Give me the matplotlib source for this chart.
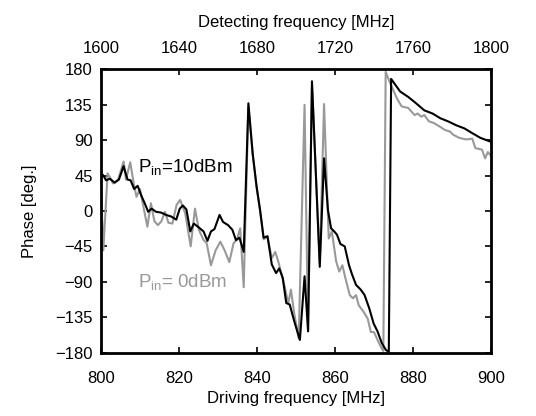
import numpy as np
import matplotlib.pyplot as plt

plt.rcParams['font.family'] = ['Liberation Sans', 'DejaVu Sans']
plt.rcParams['mathtext.fontset'] = 'custom'
plt.rcParams['mathtext.rm'] = 'Liberation Sans'

# P_in = 10 dBm (black)
f_10 = [800.0, 800.5, 801.3, 802.3, 803.5, 804.6, 805.8, 806.8, 807.6, 808.5, 809.4, 810.3,
        811.2, 812.1, 813.0, 814.1, 815.4, 816.7, 818.0, 819.3, 820.2, 821.0, 821.9, 822.9,
        823.8, 825.1, 826.3, 827.3, 828.2, 829.1, 830.4, 831.3, 832.6, 833.7, 834.6, 835.5,
        836.6, 837.8, 838.9, 839.9, 840.8, 841.7, 842.7, 843.8, 844.9, 845.7, 846.6, 847.5,
        848.4, 849.6, 851.0, 852.2, 853.1, 854.1, 856.1, 857.2, 858.2, 859.0, 859.8, 860.5,
        861.4, 862.5, 863.6, 864.4, 865.4, 866.6, 867.6, 868.8, 869.9, 870.9, 872.0, 873.1,
        873.8, 874.4, 876.7, 878.8, 880.8, 882.9, 885.0, 887.0, 889.0, 891.1, 893.2, 895.2,
        897.3, 900.0]
ph_10 = [44, 46, 39, 41, 36, 40, 57, 40, 39, 28, 32, 20,
         10, -1, 3, -1, -2, -5, -7, -11, 3, 7, 2, -26,
         -16, -21, -26, -38, -26, -23, -5, -14, -18, -24, -37, -34,
         -52, 137, 73, 31, 1, -34, -32, -68, -79, -73, -85, -117,
         -119, -141, -164, -83, -153, 165, -71, 67, 1, -22, -26, -30,
         -42, -45, -69, -81, -94, -100, -107, -124, -143, -153, -168, -177,
         -179, 168, 152, 145, 137, 128, 124, 118, 114, 109, 105, 99,
         93, 88]

# P_in = 0 dBm (grey)
f_0 = [800.0, 800.6, 801.7, 803.1, 804.4, 805.8, 806.4, 807.5, 808.4, 809.1, 810.0, 810.9,
       811.9, 812.8, 813.7, 814.6, 815.5, 816.4, 817.3, 818.3, 819.4, 820.3, 821.6, 823.0,
       824.1, 825.1, 826.3, 827.1, 828.2, 829.4, 830.6, 831.7, 832.9, 834.0, 834.8, 835.7,
       836.6, 837.8, 838.9, 839.9, 840.8, 841.7, 842.7, 843.8, 844.7, 845.5, 846.3, 847.2,
       848.0, 848.7, 849.6, 850.7, 852.2, 853.1, 854.1, 856.1, 857.2, 858.4, 859.2, 860.3,
       861.1, 861.9, 862.7, 863.8, 864.6, 865.4, 866.1, 867.3, 868.4, 869.2, 870.0, 871.1,
       872.0, 872.4, 873.0, 874.2, 875.9, 877.1, 878.8, 880.4, 881.2, 882.1, 882.9, 884.1,
       885.3, 887.0, 888.2, 889.5, 890.3, 891.9, 893.6, 895.2, 896.0, 897.7, 898.5, 899.2,
       900.0]
ph_0 = [30, -50, 48, 35, 40, 63, 40, 62, 35, 18, 28, 5,
        -20, 10, -13, -18, -13, -1, -15, -16, 8, 14, -3, -45,
        3, -24, -37, -41, -69, -50, -39, -50, -65, -41, -37, -22,
        -97, 133, 72, 30, 0, -36, -33, -60, -52, -65, -80, -98,
        -118, -100, -132, -162, 135, -153, 160, -66, 136, -35, -26, -64,
        -77, -69, -86, -107, -111, -107, -120, -128, -137, -154, -154, -166,
        -175, -178, 177, 162, 143, 133, 131, 122, 124, 120, 122, 114,
        112, 107, 103, 101, 97, 93, 91, 92, 80, 78, 67, 75,
        70]

y_ticks = [-180, -135, -90, -45, 0, 45, 90, 135, 180]
x_ticks = [800, 820, 840, 860, 880, 900]
top_ticks = [1600, 1640, 1680, 1720, 1760, 1800]

fig = plt.figure(figsize=(5.36, 4.16), dpi=100)
ax = fig.add_axes([0.1884, 0.1526, 0.7276, 0.6804])

ax.plot(f_0, ph_0, color='#999999', lw=1.5)
ax.plot(f_10, ph_10, color='black', lw=1.5)

ax.set_xlim(800, 900)
ax.set_ylim(-180, 180)
ax.set_xticks(x_ticks)
ax.set_yticks(y_ticks)
ax.tick_params(axis='y', direction='in', length=4, width=1.2, labelsize=12, right=True, pad=6)
ax.tick_params(axis='x', direction='in', length=4, width=1.2, labelsize=12, top=False, pad=13)
ax.set_xlabel('Driving frequency [MHz]', fontsize=12, labelpad=4)
ax.set_ylabel('Phase [deg.]', fontsize=12, labelpad=13)
for s in ax.spines.values():
    s.set_linewidth(2)

ax2 = ax.twiny()
ax2.set_xlim(1600, 1800)
ax2.set_xticks(top_ticks)
ax2.tick_params(direction='in', length=4, width=1.2, labelsize=12, pad=10)
ax2.set_xlabel('Detecting frequency [MHz]', fontsize=12, labelpad=10)

ax.text(809.5, 56, r'$\mathregular{P_{in}}$=10dBm', fontsize=13.5, color='black', va='center')
ax.text(809.5, -90, r'$\mathregular{P_{in}}$= 0dBm', fontsize=13.5, color='#999999', va='center')

fig.savefig('out.png', dpi=100)
